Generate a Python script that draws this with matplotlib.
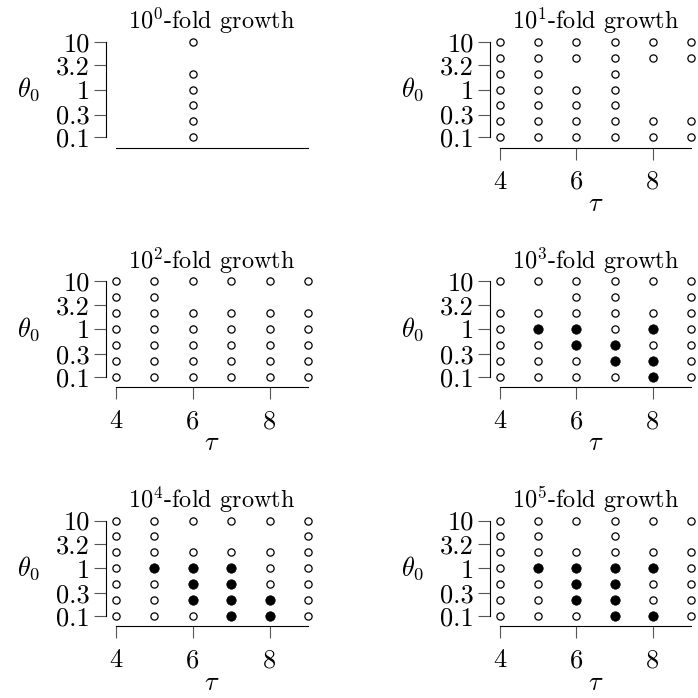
import numpy as np
import matplotlib
matplotlib.use("Agg")
import matplotlib.pyplot as plt

plt.rcParams['font.family'] = 'cmr10'
plt.rcParams['mathtext.fontset'] = 'cm'
plt.rcParams['axes.formatter.use_mathtext'] = True

# theta_0 levels (bottom to top) and tau values
theta_levels = [0.1, 0.215, 0.464, 1.0, 2.15, 4.64, 10.0]
tau_values = [4, 5, 6, 7, 8, 9]

y_ticks = [0.1, 0.3, 1, 3.2, 10]
y_ticklabels = ["0.1", "0.3", "1", "3.2", "10"]
x_ticks = [4, 6, 8]

fold_exponents = [0, 1, 2, 3, 4, 5]

# For each panel: tau -> (rows run, rows filled), rows indexed into theta_levels
runs = [
    {6: ([0, 1, 2, 3, 4, 6], [])},
    {4: ([0, 1, 2, 3, 4, 5, 6], []),
     5: ([0, 1, 2, 3, 4, 5, 6], []),
     6: ([0, 1, 2, 3, 5, 6], []),
     7: ([0, 1, 2, 3, 4, 5, 6], []),
     8: ([0, 1, 5, 6], []),
     9: ([0, 1, 5, 6], [])},
    {4: ([0, 1, 2, 3, 4, 5, 6], []),
     5: ([0, 1, 2, 3, 4, 5, 6], []),
     6: ([0, 1, 2, 3, 4, 6], []),
     7: ([0, 1, 2, 3, 4, 6], []),
     8: ([0, 1, 2, 3, 4, 6], []),
     9: ([0, 1, 2, 3, 4, 6], [])},
    {4: ([0, 1, 2, 3, 4, 6], []),
     5: ([0, 1, 2, 3, 4, 6], [3]),
     6: ([0, 1, 2, 3, 4, 5, 6], [2, 3]),
     7: ([0, 1, 2, 3, 4, 5, 6], [1, 2]),
     8: ([0, 1, 2, 3, 4, 6], [0, 1, 3]),
     9: ([0, 1, 2, 3, 4, 5, 6], [])},
    {4: ([0, 1, 2, 3, 4, 5, 6], []),
     5: ([0, 1, 2, 3, 4, 5, 6], [3]),
     6: ([0, 1, 2, 3, 4, 6], [1, 2, 3]),
     7: ([0, 1, 2, 3, 4, 6], [0, 1, 2, 3]),
     8: ([0, 1, 2, 3, 4, 6], [0, 1]),
     9: ([0, 1, 2, 3, 4, 5, 6], [])},
    {4: ([0, 1, 2, 3, 4, 5, 6], []),
     5: ([0, 1, 2, 3, 4, 5, 6], [3]),
     6: ([0, 1, 2, 3, 4, 6], [1, 2, 3]),
     7: ([0, 1, 2, 3, 4, 5, 6], [0, 1, 2, 3]),
     8: ([0, 1, 2, 3, 4, 6], [0, 3]),
     9: ([0, 1, 2, 3, 4, 6], [])},
]

W = 698.0
fig = plt.figure(figsize=(6.98, 6.98), dpi=100)

col_left = [116, 500]
col_width = [192, 191]
row_bottom = [137.3, 376.7, 616.0]  # pixel y of theta=0.1 row
row_height = 95.5

tick_fs = 19
label_fs = 19
title_fs = 17.5
for i, (expo, panel) in enumerate(zip(fold_exponents, runs)):
    r, c = divmod(i, 2)
    ax = fig.add_axes([col_left[c] / W, 1 - row_bottom[r] / W,
                       col_width[c] / W, row_height / W])
    ax.set_yscale('log')
    ax.set_xlim(4, 9)
    ax.set_ylim(0.1, 10)

    for tau, (rows, filled) in panel.items():
        open_rows = [k for k in rows if k not in filled]
        ax.plot([tau] * len(open_rows), [theta_levels[k] for k in open_rows],
                'o', ms=5.2, mfc='white', mec='black', mew=0.9, clip_on=False, zorder=3)
        if filled:
            ax.plot([tau] * len(filled), [theta_levels[k] for k in filled],
                    'o', ms=6.8, mfc='black', mec='black', mew=0.5, clip_on=False, zorder=3)

    for side in ['top', 'right']:
        ax.spines[side].set_visible(False)
    ax.spines['left'].set_position(('outward', 7.2))
    ax.spines['bottom'].set_position(('outward', 7.5))
    ax.spines['left'].set_linewidth(0.8)
    ax.spines['bottom'].set_linewidth(0.8)

    ax.yaxis.set_minor_locator(matplotlib.ticker.NullLocator())
    ax.set_yticks(y_ticks)
    ax.set_yticklabels(y_ticklabels)
    ax.tick_params(axis='both', which='major', length=8.5, width=0.8,
                   color='#555555', labelsize=tick_fs, pad=3)

    if i == 0:
        ax.set_xticks([])
    else:
        ax.set_xticks(x_ticks)
        ax.set_xticklabels([str(t) for t in x_ticks])
        ax.tick_params(axis='x', pad=7.5)
        ax.set_xlabel(r'$\tau$', fontsize=label_fs, labelpad=-1)

    ax.set_ylabel(r'$\theta_0$', fontsize=label_fs, rotation=0, labelpad=20, va='center')
    ax.set_title(r'$10^{%d}$-fold growth' % expo, fontsize=title_fs, pad=9)

fig.savefig('out.png', dpi=100)
